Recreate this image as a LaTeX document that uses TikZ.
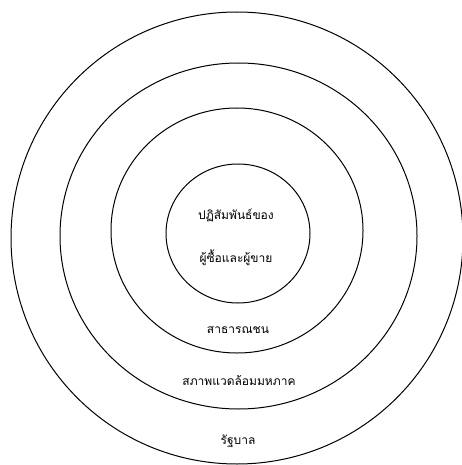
\documentclass[tikz,border=0pt]{standalone}
\usepackage{fontspec}
\newfontfamily\thaifont[Script=Thai]{Loma}
\usepackage{tikz}
\usetikzlibrary{positioning}

\begin{document}
\begin{tikzpicture}[
    x=1pt, y=-1pt,
    ring/.style={draw=black, line width=1pt},
    lbl/.style={font=\thaifont\fontsize{12}{14}\selectfont, text=black, inner sep=1pt},
]
\useasboundingbox (0,0) rectangle (462,465);
% rings, outside in
\draw[ring] (237,238) ellipse [x radius=226, y radius=226];
\draw[ring] (238.5,236) ellipse [x radius=178.5, y radius=173];
\draw[ring] (237,230.5) ellipse [x radius=126, y radius=122.5];
\draw[ring] (238,233.5) ellipse [x radius=72, y radius=69.5];

\node[lbl] (core1) at (236,215) {ปฏิสัมพันธ์ของ};
\node[lbl] (core2) at (236,258) {ผู้ซื้อและผู้ขาย};
\node[lbl] (public) at (238,330) {สาธารณชน};
\node[lbl] (macro) at (239,381) {สภาพแวดล้อมมหภาค};
\node[lbl] (govt) at (238,441) {รัฐบาล};
\end{tikzpicture}
\end{document}
